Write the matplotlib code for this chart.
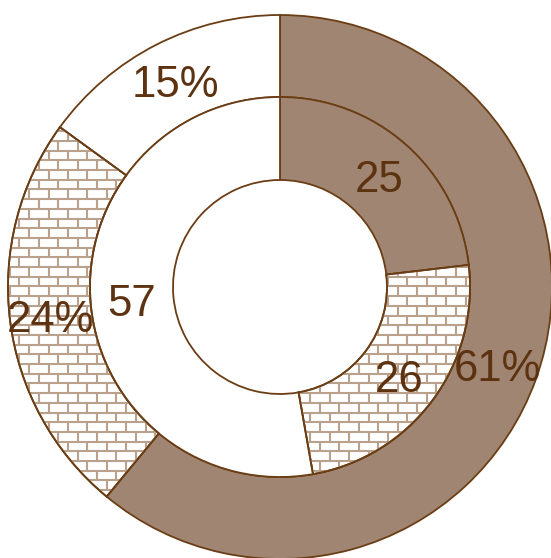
import matplotlib
matplotlib.use("Agg")
import matplotlib.pyplot as plt
from matplotlib.collections import LineCollection
from matplotlib.patches import PathPatch
import numpy as np

# Outer ring: share in percent; inner ring: raw counts
outer_labels = ["61%", "24%", "15%"]
outer_values = [61, 24, 15]
inner_labels = ["25", "26", "57"]
inner_values = [25, 26, 57]
# fill style per slice (same order in both rings)
slice_styles = ["solid", "brick", "plain"]

BROWN = "#a08672"
EDGE = "#6b3d14"
TEXT = "#5c3210"
MORTAR = "#b9a18c"

W, H = 551, 558
fig = plt.figure(figsize=(W / 100, H / 100), dpi=100)
ax = fig.add_axes([0, 0, 1, 1])

cx, cy = 280, H - 287
r_outer, r_mid, r_hole = 272, 190, 107


def face(style):
    return BROWN if style == "solid" else "white"


def brick_lines(x0, x1, y0, y1, bw=19.4, bh=9.7):
    segs = []
    rows = int(np.ceil((y1 - y0) / bh)) + 1
    for i in range(rows):
        ya = y0 + i * bh
        yb = ya + bh
        segs.append([(x0, ya), (x1, ya)])
        off = (bw / 2) if i % 2 else 0.0
        x = x0 + off
        while x < x1:
            segs.append([(x, ya), (x, yb)])
            x += bw
    return segs


def draw_ring(values, radius, width, labels):
    wedges, _ = ax.pie(
        values, radius=radius, center=(cx, cy), startangle=90, counterclock=False,
        colors=[face(s) for s in slice_styles],
        wedgeprops=dict(width=width, edgecolor=EDGE, linewidth=1.3),
    )
    total = sum(values)
    start = 90.0
    for w, v, lab, st in zip(wedges, values, labels, slice_styles):
        if st == "brick":
            lc = LineCollection(brick_lines(0, W, 0, H), colors=MORTAR,
                                linewidths=1.5, zorder=w.get_zorder() + 0.1)
            ax.add_collection(lc)
            lc.set_clip_path(w)
            # redraw the outline on top of the pattern
            outline = PathPatch(w.get_path(), transform=w.get_transform(),
                                fill=False, edgecolor=EDGE, linewidth=1.3,
                                zorder=w.get_zorder() + 0.2)
            ax.add_patch(outline)
        sweep = 360.0 * v / total
        mid = np.deg2rad(start - sweep / 2)
        rr = radius - width / 2
        ax.text(cx + rr * np.cos(mid), cy + rr * np.sin(mid), lab,
                ha="center", va="center_baseline", color=TEXT, fontsize=31.5,
                family=["Liberation Sans", "DejaVu Sans"], zorder=10)
        start -= sweep
    return wedges


draw_ring(outer_values, r_outer, r_outer - r_mid, outer_labels)
draw_ring(inner_values, r_mid, r_mid - r_hole, inner_labels)

ax.set_xlim(0, W)
ax.set_ylim(0, H)
ax.set_aspect("equal")
ax.axis("off")

fig.savefig("out.png", dpi=100, facecolor="white")
